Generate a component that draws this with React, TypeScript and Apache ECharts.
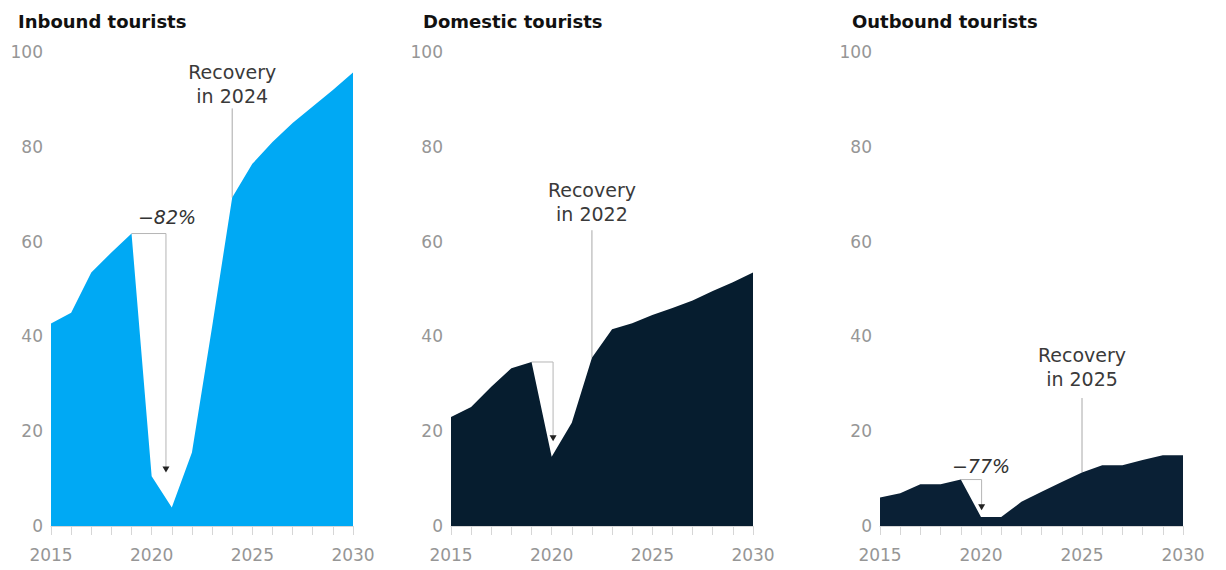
import React, { useEffect, useRef } from "react";
import * as echarts from "echarts";

// ---- data (index = percent of 2019 level) ----
const years = [2015, 2016, 2017, 2018, 2019, 2020, 2021, 2022, 2023, 2024, 2025, 2026, 2027, 2028, 2029, 2030];
const inbound = [42.7, 45.0, 53.5, 57.7, 61.7, 10.5, 3.9, 15.5, 42.0, 69.3, 76.4, 81.0, 85.0, 88.5, 92.0, 95.7];
const domestic = [23.0, 25.1, 29.4, 33.3, 34.6, 14.6, 21.8, 35.5, 41.5, 42.8, 44.5, 46.0, 47.6, 49.6, 51.4, 53.5];
const outbound = [6.0, 6.9, 8.8, 8.8, 9.8, 1.9, 1.9, 5.1, 7.2, 9.3, 11.3, 12.8, 12.8, 13.9, 14.9, 14.9];

const panelTitles = ["Inbound tourists", "Domestic tourists", "Outbound tourists"];
const panelSeries = [inbound, domestic, outbound];
const xTickLabels = [2015, 2020, 2025, 2030];
const yTickValues = [0, 20, 40, 60, 80, 100];

// drop annotations (data units)
const dropLabels = ["\u221282%", "\u221257%", "\u221277%"];
const peakYear = 2019;
const bracketYears = [2020.71, 2020.07, 2020.03];
const arrowValues = [11.3, 17.9, 3.3];
const dropLabelYears = [2020.76, 2020.3, 2020.0];
const dropLabelValues = [65.1, 9.9, 12.6];

// recovery annotations (data units)
const recoveryYears = [2024, 2022, 2025];
const recoveryTexts = [["Recovery", "in 2024"], ["Recovery", "in 2022"], ["Recovery", "in 2025"]];
const recoveryTextValues = [[95.7, 90.8], [70.9, 65.8], [36.0, 31.0]];
const recoveryLineTops = [88.1, 62.4, 27.0];

// ---- styling ----
const FONT = "DejaVu Sans";
const gridLefts = [51, 451, 880];
const gridWidths = [302, 302, 303];
const titleXs = [18, 423, 852];
const areaColors = ["#00a9f4", "#061d2f", "#0a2035"];
const dropLabelColors = ["#333333", "#ffffff", "#333333"];
const axisGray = "#969696";
const tickGray = "#d6d6d6";

export default function App() {
  const ref = useRef<HTMLDivElement>(null);

  useEffect(() => {
    if (!ref.current) return;
    const chart = echarts.init(ref.current, null, { renderer: "svg" });

    const grid = gridLefts.map((left, i) => ({
      left,
      width: gridWidths[i],
      top: 52,
      height: 474,
    }));

    const xAxis = gridLefts.map((_, i) => ({
      type: "value",
      gridIndex: i,
      min: xTickLabels[0],
      max: xTickLabels[xTickLabels.length - 1],
      interval: 5,
      axisLine: { show: true, lineStyle: { color: tickGray } },
      axisTick: { show: true, length: 9, lineStyle: { color: tickGray } },
      minorTick: { show: true, splitNumber: 5, length: 9, lineStyle: { color: tickGray } },
      splitLine: { show: false },
      axisLabel: {
        color: axisGray,
        fontSize: 17,
        fontFamily: FONT,
        margin: 20,
        formatter: (v: number) => String(v),
      },
    }));

    const yAxis = gridLefts.map((_, i) => ({
      type: "value",
      gridIndex: i,
      min: yTickValues[0],
      max: yTickValues[yTickValues.length - 1],
      interval: 20,
      axisLine: { show: false },
      axisTick: { show: false },
      splitLine: { show: false },
      axisLabel: { color: axisGray, fontSize: 17, fontFamily: FONT, margin: 8 },
    }));

    const series = panelSeries.map((vals, i) => ({
      type: "line",
      name: panelTitles[i],
      xAxisIndex: i,
      yAxisIndex: i,
      data: years.map((y, k) => [y, vals[k]]),
      symbol: "none",
      silent: true,
      lineStyle: { width: 0 },
      itemStyle: { color: areaColors[i] },
      areaStyle: { color: areaColors[i], opacity: 1 },
    }));

    chart.setOption({ animation: false, grid, xAxis, yAxis, series });

    const px = (i: number, x: number, y: number) =>
      chart.convertToPixel({ gridIndex: i } as any, [x, y]) as number[];

    const graphic: any[] = [];
    panelTitles.forEach((t, i) => {
      graphic.push({
        type: "text",
        x: titleXs[i],
        y: 21,
        style: { text: t, fontFamily: FONT, fontWeight: "bold", fontSize: 18, fill: "#111", verticalAlign: "middle" },
      });
    });

    panelSeries.forEach((vals, i) => {
      const peak = px(i, peakYear, vals[years.indexOf(peakYear)]);
      const corner = px(i, bracketYears[i], vals[years.indexOf(peakYear)]);
      const tip = px(i, bracketYears[i], arrowValues[i]);
      graphic.push({
        type: "polyline",
        shape: { points: [peak, corner, [tip[0], tip[1] - 4]] },
        style: { stroke: "#b5b5b5", lineWidth: 1, fill: null },
      });
      graphic.push({
        type: "polygon",
        shape: { points: [[tip[0] - 3.5, tip[1] - 6], [tip[0] + 3.5, tip[1] - 6], [tip[0], tip[1]]] },
        style: { fill: "#222" },
      });
      const lp = px(i, dropLabelYears[i], dropLabelValues[i]);
      graphic.push({
        type: "text",
        x: lp[0],
        y: lp[1],
        style: {
          text: dropLabels[i],
          fontFamily: FONT,
          fontStyle: "italic",
          fontSize: 19,
          fill: dropLabelColors[i],
          align: "center",
          verticalAlign: "middle",
        },
      });

      const ry = recoveryYears[i];
      const top = px(i, ry, recoveryLineTops[i]);
      const bottom = px(i, ry, vals[years.indexOf(ry)]);
      graphic.push({
        type: "line",
        shape: { x1: top[0], y1: top[1], x2: bottom[0], y2: bottom[1] },
        style: { stroke: "#a8a8a8", lineWidth: 1 },
      });
      recoveryTexts[i].forEach((s, k) => {
        const p = px(i, ry, recoveryTextValues[i][k]);
        graphic.push({
          type: "text",
          x: p[0],
          y: p[1],
          style: { text: s, fontFamily: FONT, fontSize: 19, fill: "#3a3a3a", align: "center", verticalAlign: "middle" },
        });
      });
    });

    chart.setOption({ graphic });

    return () => chart.dispose();
  }, []);

  return (
    <div
      ref={ref}
      style={{ position: "absolute", left: 0, top: 0, width: 1226, height: 570, background: "#ffffff" }}
    />
  );
}
